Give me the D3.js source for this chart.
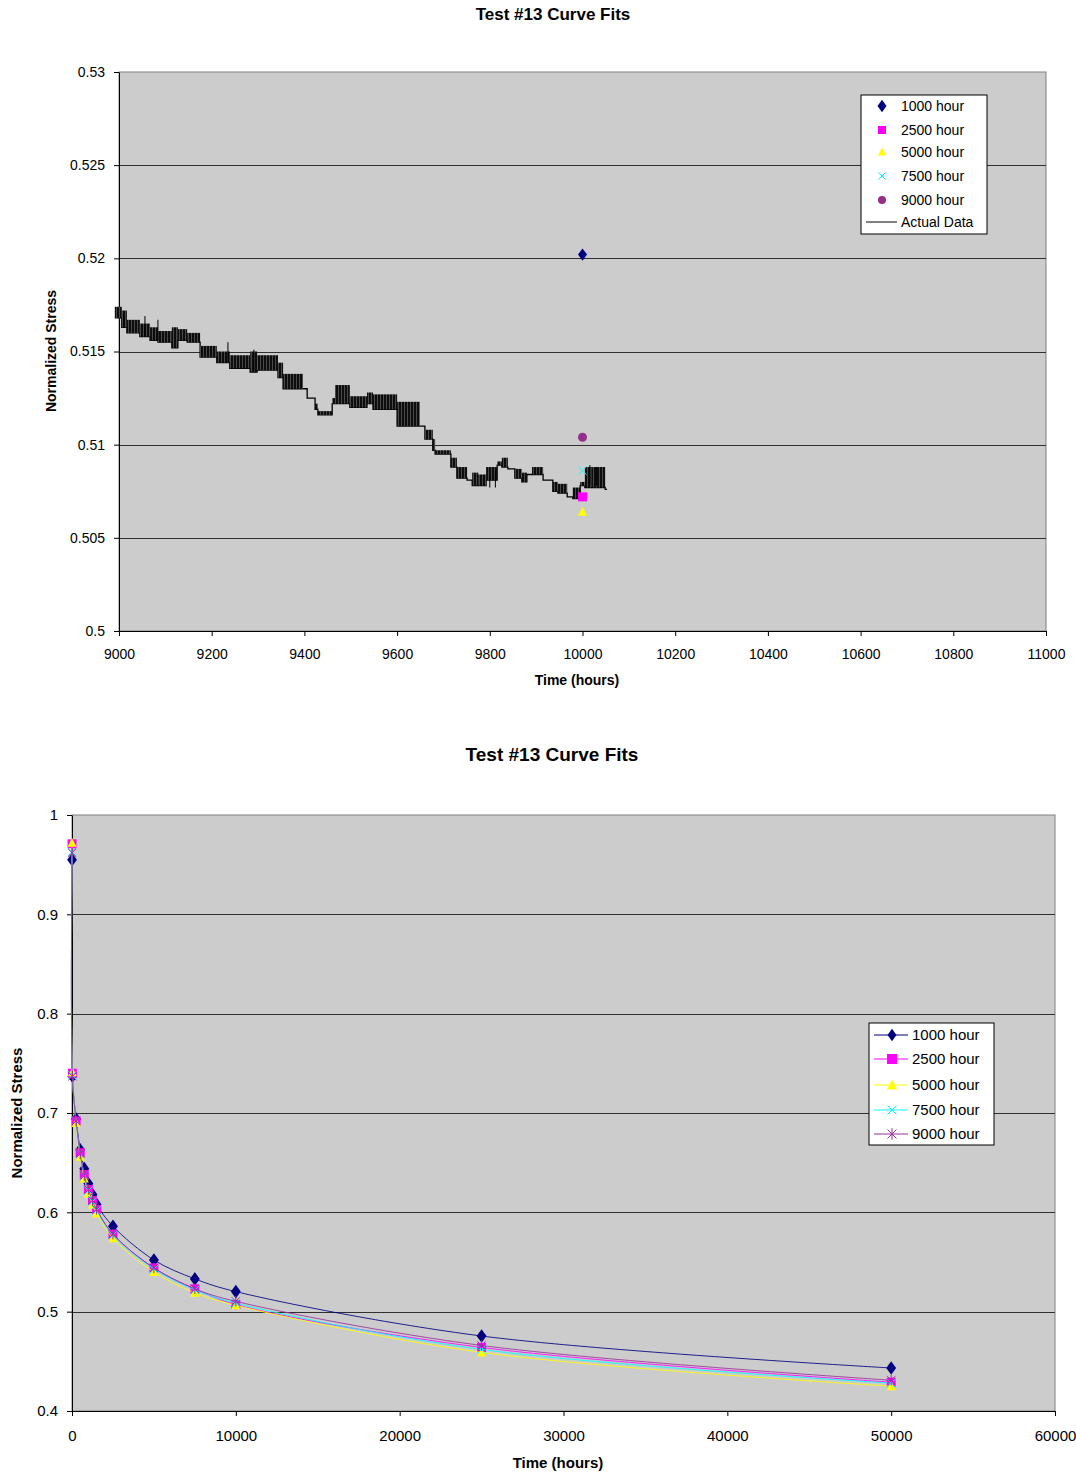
<!DOCTYPE html>
<html>
<head>
<meta charset="utf-8">
<script src="https://cdn.jsdelivr.net/npm/d3@7"></script>
<style>
body { margin: 0; background: #fff; }
text { font-family: "Liberation Sans", Arial, sans-serif; fill: #000; }
</style>
</head>
<body>
<div id="output"></div>
<script>
// ---- data ----
var fitNames = ["1000 hour", "2500 hour", "5000 hour", "7500 hour", "9000 hour"];
var fitColors = ["#000080", "#ff00ff", "#ffff00", "#00ffff", "#993399"];

// top chart: fit predictions at 10000 hours
var fitCheckTime = 10000;
var fitAt10000 = [0.5202, 0.5072, 0.5064, 0.5086, 0.5104];

var actualBands = [
    [8991, 9006, 0.5174, 0.5168], [9006, 9017, 0.5172, 0.5163], [9017, 9045, 0.5167, 0.5160],
    [9045, 9067, 0.5165, 0.5158], [9067, 9084, 0.5163, 0.5156], [9084, 9114, 0.5161, 0.5155],
    [9114, 9127, 0.5163, 0.5152], [9127, 9147, 0.5162, 0.5156], [9147, 9175, 0.5160, 0.5155],
    [9175, 9211, 0.5153, 0.5147], [9211, 9239, 0.5150, 0.5144], [9239, 9283, 0.5148, 0.5141],
    [9283, 9298, 0.5150, 0.5139], [9298, 9343, 0.5148, 0.5140], [9343, 9354, 0.5144, 0.5136],
    [9354, 9397, 0.5138, 0.5130], [9397, 9406, 0.5130, 0.5130], [9406, 9423, 0.5125, 0.5125],
    [9423, 9429, 0.5122, 0.5119], [9429, 9460, 0.5118, 0.5116], [9460, 9466, 0.5125, 0.5122],
    [9466, 9498, 0.5132, 0.5122], [9498, 9535, 0.5126, 0.5120], [9535, 9548, 0.5128, 0.5122],
    [9548, 9600, 0.5127, 0.5119], [9600, 9649, 0.5123, 0.5110], [9649, 9660, 0.5110, 0.5110],
    [9660, 9677, 0.5108, 0.5103], [9677, 9682, 0.5103, 0.5097], [9682, 9716, 0.5097, 0.5095],
    [9716, 9729, 0.5093, 0.5088], [9729, 9751, 0.5088, 0.5082], [9751, 9762, 0.5082, 0.5081],
    [9762, 9775, 0.5085, 0.5078], [9775, 9792, 0.5084, 0.5078], [9792, 9816, 0.5088, 0.5081],
    [9816, 9826, 0.5091, 0.5089], [9826, 9839, 0.5093, 0.5088], [9839, 9854, 0.5088, 0.5087],
    [9854, 9869, 0.5087, 0.5082], [9869, 9880, 0.5085, 0.5080], [9880, 9891, 0.5085, 0.5084],
    [9891, 9915, 0.5088, 0.5084], [9915, 9936, 0.5082, 0.5081], [9936, 9947, 0.5080, 0.5075],
    [9947, 9967, 0.5079, 0.5074], [9967, 9979, 0.5073, 0.5072], [9979, 9995, 0.5077, 0.5071],
    [9995, 10005, 0.5080, 0.5078], [10005, 10020, 0.5088, 0.5077], [10020, 10049, 0.5088, 0.5077],
    [10049, 10053, 0.5076, 0.5076]
];
// single spikes: [t, high, low]
var actualSpikes = [
    [9010, 0.5170, 0.5163], [9056, 0.5169, 0.5158], [9084, 0.5167, 0.5156],
    [9235, 0.5155, 0.5144], [9291, 0.5151, 0.5139], [9800, 0.5083, 0.5077],
    [9812, 0.5086, 0.5077], [10016, 0.5089, 0.5078], [10030, 0.5088, 0.5078]
];

var topXTicks = [9000, 9200, 9400, 9600, 9800, 10000, 10200, 10400, 10600, 10800, 11000];
var topYTicks = [0.5, 0.505, 0.51, 0.515, 0.52, 0.525, 0.53];

// bottom chart: fitted curves
var fitTimes = [1, 24, 250, 500, 750, 1000, 1250, 1500, 2500, 5000, 7500, 10000, 25000, 50000];
var fit1000 = [0.955, 0.737, 0.694, 0.663, 0.644, 0.629, 0.618, 0.608, 0.586, 0.552, 0.533, 0.5202, 0.4755, 0.4433];
var fit2500 = [0.971, 0.740, 0.692, 0.660, 0.638, 0.623, 0.612, 0.603, 0.578, 0.544, 0.523, 0.5072, 0.464, 0.429];
var fit5000 = [0.972, 0.741, 0.690, 0.656, 0.634, 0.619, 0.608, 0.599, 0.574, 0.540, 0.519, 0.5064, 0.459, 0.425];
var fit7500 = [0.963, 0.738, 0.692, 0.659, 0.637, 0.622, 0.611, 0.602, 0.577, 0.543, 0.522, 0.5086, 0.462, 0.428];
var fit9000 = [0.962, 0.737, 0.692, 0.659, 0.637, 0.623, 0.612, 0.603, 0.578, 0.544, 0.523, 0.5104, 0.466, 0.431];
var fitSeries = [fit1000, fit2500, fit5000, fit7500, fit9000];

var botXTicks = [0, 10000, 20000, 30000, 40000, 50000, 60000];
var botYTicks = [0.4, 0.5, 0.6, 0.7, 0.8, 0.9, 1];

// ---- drawing ----
var W = 1076, H = 1474;
var svg = d3.select("#output").append("svg")
    .attr("width", W)
    .attr("height", H);
svg.append("rect").attr("width", W).attr("height", H).attr("fill", "#fff");

var defs = svg.append("defs");
var hatch = defs.append("pattern")
    .attr("id", "hatch")
    .attr("patternUnits", "userSpaceOnUse")
    .attr("width", 3)
    .attr("height", 4);
hatch.append("rect").attr("width", 3).attr("height", 4).attr("fill", "#0d0d0d");
hatch.append("rect").attr("x", 2).attr("width", 1).attr("height", 4).attr("fill", "#4a4a4a");

// marker shapes, markers are drawn centred on 0,0
function drawMarker(g, kind, color, s) {
    if (kind == 0) {
        g.append("path").attr("d", "M0," + (-s * 0.62) + "L" + (s * 0.45) + ",0L0," + (s * 0.62) + "L" + (-s * 0.45) + ",0Z")
            .attr("fill", color);
    } else if (kind == 1) {
        g.append("rect").attr("x", -s / 2).attr("y", -s / 2).attr("width", s).attr("height", s)
            .attr("fill", color);
    } else if (kind == 2) {
        g.append("path").attr("d", "M0," + (-s * 0.55) + "L" + (s * 0.5) + "," + (s * 0.45) + "L" + (-s * 0.5) + "," + (s * 0.45) + "Z")
            .attr("fill", color);
    } else if (kind == 3) {
        var r = s * 0.45;
        g.append("path").attr("d", "M" + -r + "," + -r + "L" + r + "," + r + "M" + -r + "," + r + "L" + r + "," + -r)
            .attr("stroke", color).attr("stroke-width", 1).attr("fill", "none");
    } else if (kind == 4) {
        var q = s * 0.45;
        g.append("path").attr("d", "M" + -q + "," + -q + "L" + q + "," + q + "M" + -q + "," + q + "L" + q + "," + -q + "M0," + (-q * 1.3) + "L0," + (q * 1.3))
            .attr("stroke", color).attr("stroke-width", 1).attr("fill", "none");
    } else if (kind == 5) {
        g.append("circle").attr("r", s / 2).attr("fill", color);
    }
}

function plotFrame(g, x, y, xTicks, yTicks, fontSize, padX, padY) {
    var x0 = x.range()[0], x1 = x.range()[1];
    var y0 = y.range()[0], y1 = y.range()[1];

    g.append("rect")
        .attr("x", x0).attr("y", y1)
        .attr("width", x1 - x0).attr("height", y0 - y1)
        .attr("fill", "#cccccc")
        .attr("stroke", "#808080")
        .attr("stroke-width", 1);

    g.selectAll(".grid")
        .data(yTicks.slice(1, yTicks.length - 1))
        .enter()
        .append("line")
        .attr("class", "grid")
        .attr("x1", x0).attr("x2", x1)
        .attr("y1", function (d) { return Math.round(y(d)) + 0.5; })
        .attr("y2", function (d) { return Math.round(y(d)) + 0.5; })
        .attr("stroke", "#303030")
        .attr("stroke-width", 1.2);

    var xAxis = d3.axisBottom(x)
        .tickValues(xTicks)
        .tickSize(5)
        .tickSizeOuter(0)
        .tickPadding(padX)
        .tickFormat(function (d) { return String(d); });

    var yAxis = d3.axisLeft(y)
        .tickValues(yTicks)
        .tickSize(5)
        .tickSizeOuter(0)
        .tickPadding(padY)
        .tickFormat(function (d) { return String(+d.toFixed(3)); });

    var ax = g.append("g")
        .attr("transform", "translate(0," + y0 + ")")
        .call(xAxis);
    var ay = g.append("g")
        .attr("transform", "translate(" + x0 + ",0)")
        .call(yAxis);

    [ax, ay].forEach(function (a) {
        a.selectAll("text")
            .style("font-family", "'Liberation Sans', Arial, sans-serif")
            .style("font-size", fontSize + "px")
            .attr("fill", "#000");
        a.selectAll("line").attr("stroke", "#000");
        a.select(".domain").attr("stroke", "#000");
    });
}

// ===== top chart =====
var xTop = d3.scaleLinear().domain([9000, 11000]).range([119, 1046]);
var yTop = d3.scaleLinear().domain([0.5, 0.53]).range([631, 72]);

var topG = svg.append("g");
plotFrame(topG, xTop, yTop, topXTicks, topYTicks, 14, 13, 9);

// actual data step line
var stepPts = [];
actualBands.forEach(function (b) {
    stepPts.push([b[0], b[3]]);
    stepPts.push([b[1], b[3]]);
});
var stepLine = d3.line()
    .x(function (d) { return xTop(d[0]); })
    .y(function (d) { return yTop(d[1]); });

topG.append("path")
    .attr("d", stepLine(stepPts))
    .attr("fill", "none")
    .attr("stroke", "#000")
    .attr("stroke-width", 1.3);

topG.selectAll(".band")
    .data(actualBands.filter(function (b) { return b[2] - b[3] > 0.00015; }))
    .enter()
    .append("rect")
    .attr("class", "band")
    .attr("x", function (d) { return xTop(d[0]); })
    .attr("y", function (d) { return yTop(d[2]); })
    .attr("width", function (d) { return xTop(d[1]) - xTop(d[0]); })
    .attr("height", function (d) { return yTop(d[3]) - yTop(d[2]); })
    .attr("fill", "url(#hatch)");

topG.selectAll(".spike")
    .data(actualSpikes)
    .enter()
    .append("line")
    .attr("class", "spike")
    .attr("x1", function (d) { return xTop(d[0]); })
    .attr("x2", function (d) { return xTop(d[0]); })
    .attr("y1", function (d) { return yTop(d[1]); })
    .attr("y2", function (d) { return yTop(d[2]); })
    .attr("stroke", "#000")
    .attr("stroke-width", 1);

// fitted predictions at 10000 h
var topKinds = [0, 1, 2, 3, 5];
var topSizes = [10, 9, 9, 9, 9];
fitAt10000.forEach(function (v, i) {
    var g = topG.append("g")
        .attr("transform", "translate(" + xTop(fitCheckTime) + "," + yTop(v) + ")");
    drawMarker(g, topKinds[i], i == 4 ? "#952d8c" : fitColors[i], topSizes[i]);
});

// top legend
var tl = topG.append("g").attr("transform", "translate(861,95)");
tl.append("rect").attr("width", 126).attr("height", 139)
    .attr("fill", "#fff").attr("stroke", "#000").attr("stroke-width", 1);
var topLegendY = [11, 35, 57, 81, 105, 127];
fitNames.forEach(function (name, i) {
    var g = tl.append("g").attr("transform", "translate(21," + topLegendY[i] + ")");
    drawMarker(g, topKinds[i], i == 4 ? "#952d8c" : fitColors[i], i == 0 ? 10 : 8);
    tl.append("text").attr("x", 40).attr("y", topLegendY[i]).attr("dy", "0.35em")
        .style("font-size", "14px").text(name);
});
tl.append("line").attr("x1", 5).attr("x2", 36)
    .attr("y1", topLegendY[5]).attr("y2", topLegendY[5])
    .attr("stroke", "#000").attr("stroke-width", 1);
tl.append("text").attr("x", 40).attr("y", topLegendY[5]).attr("dy", "0.35em")
    .style("font-size", "14px").text("Actual Data");

topG.append("text").attr("x", 553).attr("y", 20).attr("text-anchor", "middle")
    .style("font-size", "17px").style("font-weight", "bold").text("Test #13 Curve Fits");
topG.append("text").attr("x", 577).attr("y", 685).attr("text-anchor", "middle")
    .style("font-size", "14px").style("font-weight", "bold").text("Time (hours)");
topG.append("text").attr("transform", "translate(56,351) rotate(-90)").attr("text-anchor", "middle")
    .style("font-size", "14px").style("font-weight", "bold").text("Normalized Stress");

// ===== bottom chart =====
var xBot = d3.scaleLinear().domain([0, 60000]).range([72, 1055]);
var yBot = d3.scaleLinear().domain([0.4, 1]).range([1411, 815]);

var botG = svg.append("g");
plotFrame(botG, xBot, yBot, botXTicks, botYTicks, 15, 14, 9);

var botKinds = [0, 1, 2, 3, 4];
var fitLine = d3.line()
    .curve(d3.curveCatmullRom.alpha(0.5))
    .x(function (d) { return xBot(d[0]); })
    .y(function (d) { return yBot(d[1]); });

fitSeries.forEach(function (vals, i) {
    var pts = fitTimes.map(function (t, j) { return [t, vals[j]]; });
    botG.append("path")
        .attr("d", fitLine(pts))
        .attr("fill", "none")
        .attr("stroke", fitColors[i])
        .attr("stroke-width", 1)
        .attr("opacity", 0.85);
    pts.forEach(function (p) {
        var g = botG.append("g")
            .attr("transform", "translate(" + xBot(p[0]) + "," + yBot(p[1]) + ")");
        drawMarker(g, botKinds[i], fitColors[i], i == 0 ? 11 : 9);
    });
});

// bottom legend
var bl = botG.append("g").attr("transform", "translate(869,1023)");
bl.append("rect").attr("width", 125).attr("height", 122)
    .attr("fill", "#fff").attr("stroke", "#000").attr("stroke-width", 1);
var botLegendY = [12, 36, 62, 87, 111];
fitNames.forEach(function (name, i) {
    bl.append("line").attr("x1", 5).attr("x2", 39)
        .attr("y1", botLegendY[i]).attr("y2", botLegendY[i])
        .attr("stroke", fitColors[i]).attr("stroke-width", 1.2);
    var g = bl.append("g").attr("transform", "translate(23," + botLegendY[i] + ")");
    drawMarker(g, botKinds[i], fitColors[i], 10);
    bl.append("text").attr("x", 43).attr("y", botLegendY[i]).attr("dy", "0.35em")
        .style("font-size", "15px").text(name);
});

botG.append("text").attr("x", 552).attr("y", 761).attr("text-anchor", "middle")
    .style("font-size", "19px").style("font-weight", "bold").text("Test #13 Curve Fits");
botG.append("text").attr("x", 558).attr("y", 1468).attr("text-anchor", "middle")
    .style("font-size", "15px").style("font-weight", "bold").text("Time (hours)");
botG.append("text").attr("transform", "translate(22,1113) rotate(-90)").attr("text-anchor", "middle")
    .style("font-size", "15px").style("font-weight", "bold").text("Normalized Stress");
</script>
</body>
</html>
